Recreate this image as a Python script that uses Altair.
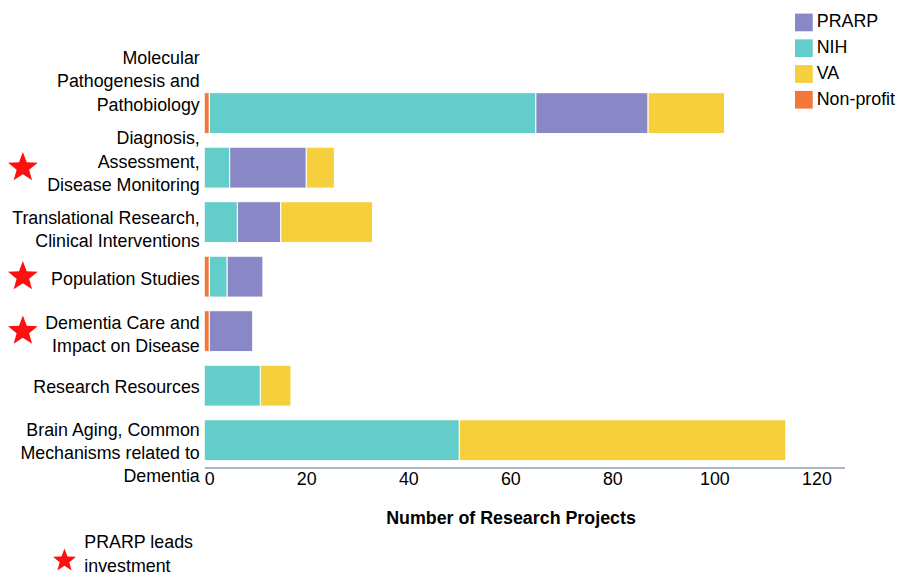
import altair as alt
import pandas as pd

categories = [
    "Molecular|Pathogenesis and|Pathobiology",
    "Diagnosis,|Assessment,|Disease Monitoring",
    "Translational Research,|Clinical Interventions",
    "Population Studies",
    "Dementia Care and|Impact on Disease",
    "Research Resources",
    "Brain Aging, Common|Mechanisms related to|Dementia",
]
nonprofit = [1, 0, 0, 1, 1, 0, 0]
nih = [64, 5, 6.5, 3.5, 0, 11, 50]
prarp = [22, 15, 8.5, 7, 8.5, 0, 0]
va = [15, 5.5, 18, 0, 0, 6, 64]
prarp_leads = [False, True, False, True, True, False, False]

funders = ["PRARP", "NIH", "VA", "Non-profit"]
colors = ["#8a87c6", "#63cdca", "#f5d03c", "#f2773a"]
stack_order = ["Non-profit", "NIH", "PRARP", "VA"]
x_ticks = [0, 20, 40, 60, 80, 100, 120]
note_text = "PRARP leads|investment"

# vertical nudges of the category labels, as laid out in the original
label_nudge = [("Molecular", -54.5), ("Diagnosis", -28.5), ("Translational", -3.5),
               ("Population", 3.5), ("Dementia Care", -7.5), ("Research", 2.5),
               ("Brain", -9.5)]

STAR = ("M0,-1L0.247,-0.34L0.951,-0.309L0.399,0.13L0.588,0.809L0,0.42"
        "L-0.588,0.809L-0.399,0.13L-0.951,-0.309L-0.247,-0.34Z")

series = {"Non-profit": nonprofit, "NIH": nih, "PRARP": prarp, "VA": va}
rows = []
for f in stack_order:
    for c, v in zip(categories, series[f]):
        if v > 0:
            rows.append({"category": c, "funder": f, "projects": v,
                         "rank": stack_order.index(f)})
df = pd.DataFrame(rows)
stars_df = pd.DataFrame({"category": [c for c, s in zip(categories, prarp_leads) if s]})
note_df = pd.DataFrame({"note": [note_text]})

FONT = "Liberation Sans"

label_offset = {
    "condition": [
        {"test": f"indexof(datum.value, '{k}') == 0", "value": v}
        for k, v in label_nudge
    ],
    "value": 0,
}

bars = alt.Chart(df).mark_bar(stroke="white", strokeWidth=1).encode(
    x=alt.X(
        "projects:Q", stack="zero",
        scale=alt.Scale(domain=[0, 125.5], nice=False),
        axis=alt.Axis(
            values=x_ticks, title="Number of Research Projects",
            titleFontSize=18, titleFont=FONT, titleFontWeight="bold",
            titleColor="#000000", titleX=309, titleY=52,
            titleAlign="center", titleBaseline="middle",
            labelFontSize=18, labelFont=FONT, labelColor="#000000",
            labelPadding=3, ticks=False, grid=False,
            domainColor="#8c9fb5", domainWidth=1.5,
        ),
    ),
    y=alt.Y(
        "category:N", sort=categories, title="",
        scale=alt.Scale(paddingInner=0.25, paddingOuter=0.125),
        axis=alt.Axis(
            labelExpr="split(datum.label, '|')",
            labelFontSize=18, labelFont=FONT, labelColor="#000000",
            labelLineHeight=23.5, labelLimit=320, labelAlign="right",
            labelBaseline="middle", labelPadding=5,
            labelOffset=label_offset,
            domain=False, ticks=False, grid=False,
        ),
    ),
    color=alt.Color(
        "funder:N",
        scale=alt.Scale(domain=funders, range=colors),
        legend=alt.Legend(
            title="", orient="none", legendX=596, legendY=-73,
            symbolType="square", symbolSize=320, symbolStrokeWidth=0,
            labelFontSize=18, labelFont=FONT, labelColor="#000000",
            rowPadding=8, labelOffset=4, labelLimit=200,
        ),
    ),
    order=alt.Order("rank:Q"),
)

stars = alt.Chart(stars_df).mark_point(
    shape=STAR, filled=True, color="#ff1010", opacity=1, size=1000
).encode(
    x=alt.value(-183),
    y=alt.Y("category:N", sort=categories),
)

note_star = alt.Chart(note_df).mark_point(
    shape=STAR, filled=True, color="#ff1010", opacity=1, size=600
).encode(x=alt.value(-141), y=alt.value(479))

note = alt.Chart(note_df).mark_text(
    align="left", baseline="middle", lineBreak="|", fontSize=18,
    lineHeight=25, font=FONT, color="#000000"
).encode(x=alt.value(-121), y=alt.value(461), text="note:N")

chart = alt.layer(bars, stars, note_star, note).properties(
    width=646, height=385,
    autosize=alt.AutoSizeParams(type="none"),
    padding={"left": 198, "top": 76, "right": 56, "bottom": 112},
    background="white",
).configure_view(strokeWidth=0)

chart.save("out.html", embed_options={"renderer": "svg", "actions": False})
